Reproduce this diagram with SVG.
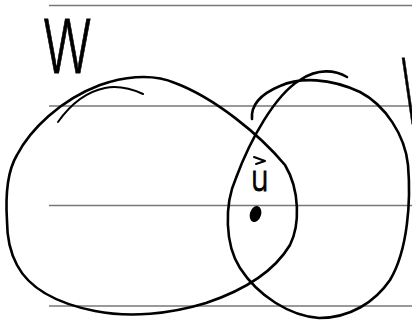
<svg xmlns="http://www.w3.org/2000/svg" width="412" height="322" viewBox="0 0 412 322">
<style>
.rule{stroke:#777;stroke-width:1.3;fill:none}
.ink{stroke:#000;fill:none;stroke-linecap:round;stroke-linejoin:round}
.thick{stroke-width:2.6}
.thin{stroke-width:2}
.hand{font-family:Inter,"Open Sans","DejaVu Sans",sans-serif;font-weight:300;fill:#000}
.bold{stroke:#000;stroke-width:0.9}
</style>
<rect width="412" height="322" fill="#fff"/>
<g id="rules">
<line class="rule" x1="49" y1="5.5" x2="412" y2="5.5"/>
<line class="rule" x1="49" y1="106" x2="412" y2="106"/>
<line class="rule" x1="49" y1="205.5" x2="412" y2="205.5"/>
<line class="rule" x1="49" y1="306" x2="412" y2="306"/>
</g>
<g id="W-region">
<path class="ink thick" d="M 7,221 C 5,190 8,170 17,155 C 30,130 60,100 100,85 C 120,78 150,72 175,83 C 215,98 260,135 285,165 C 300,190 300,225 290,245 C 275,270 245,290 206,303 C 170,314 130,318 95,311 C 60,304 30,290 17,265 C 10,252 7,235 7,221 Z"/>
<path class="ink thin" d="M 58,122 C 70,105 85,92 105,88 C 120,85 132,89 143,94"/>
<text id="W-label" class="hand bold" transform="translate(43,73) scale(0.68,1)" font-size="74">W</text>
</g>
<g id="V-region">
<path class="ink thick" d="M 252,119 C 251,108 256,96 280,86 C 300,77 330,78 360,92 C 385,105 405,135 408,165 C 411,200 408,250 390,280 C 375,302 350,318 319,318 C 290,316 258,296 240,268 C 225,245 224,205 236,178 C 250,140 275,95 300,80 C 318,68 335,70 347,77"/>
<text id="V-label" class="hand bold" transform="translate(401,124) scale(0.4,1)" font-size="90">V</text>
</g>
<g id="vector-u">
<path class="ink thin" d="M 254,157 L 265,161 L 256,164"/>
<text class="hand bold" transform="translate(251,191) scale(0.8,1)" font-size="37">u</text>
<ellipse cx="255.5" cy="214" rx="5.6" ry="8.2" transform="rotate(18 255.5 214)" fill="#000"/>
</g>
</svg>
